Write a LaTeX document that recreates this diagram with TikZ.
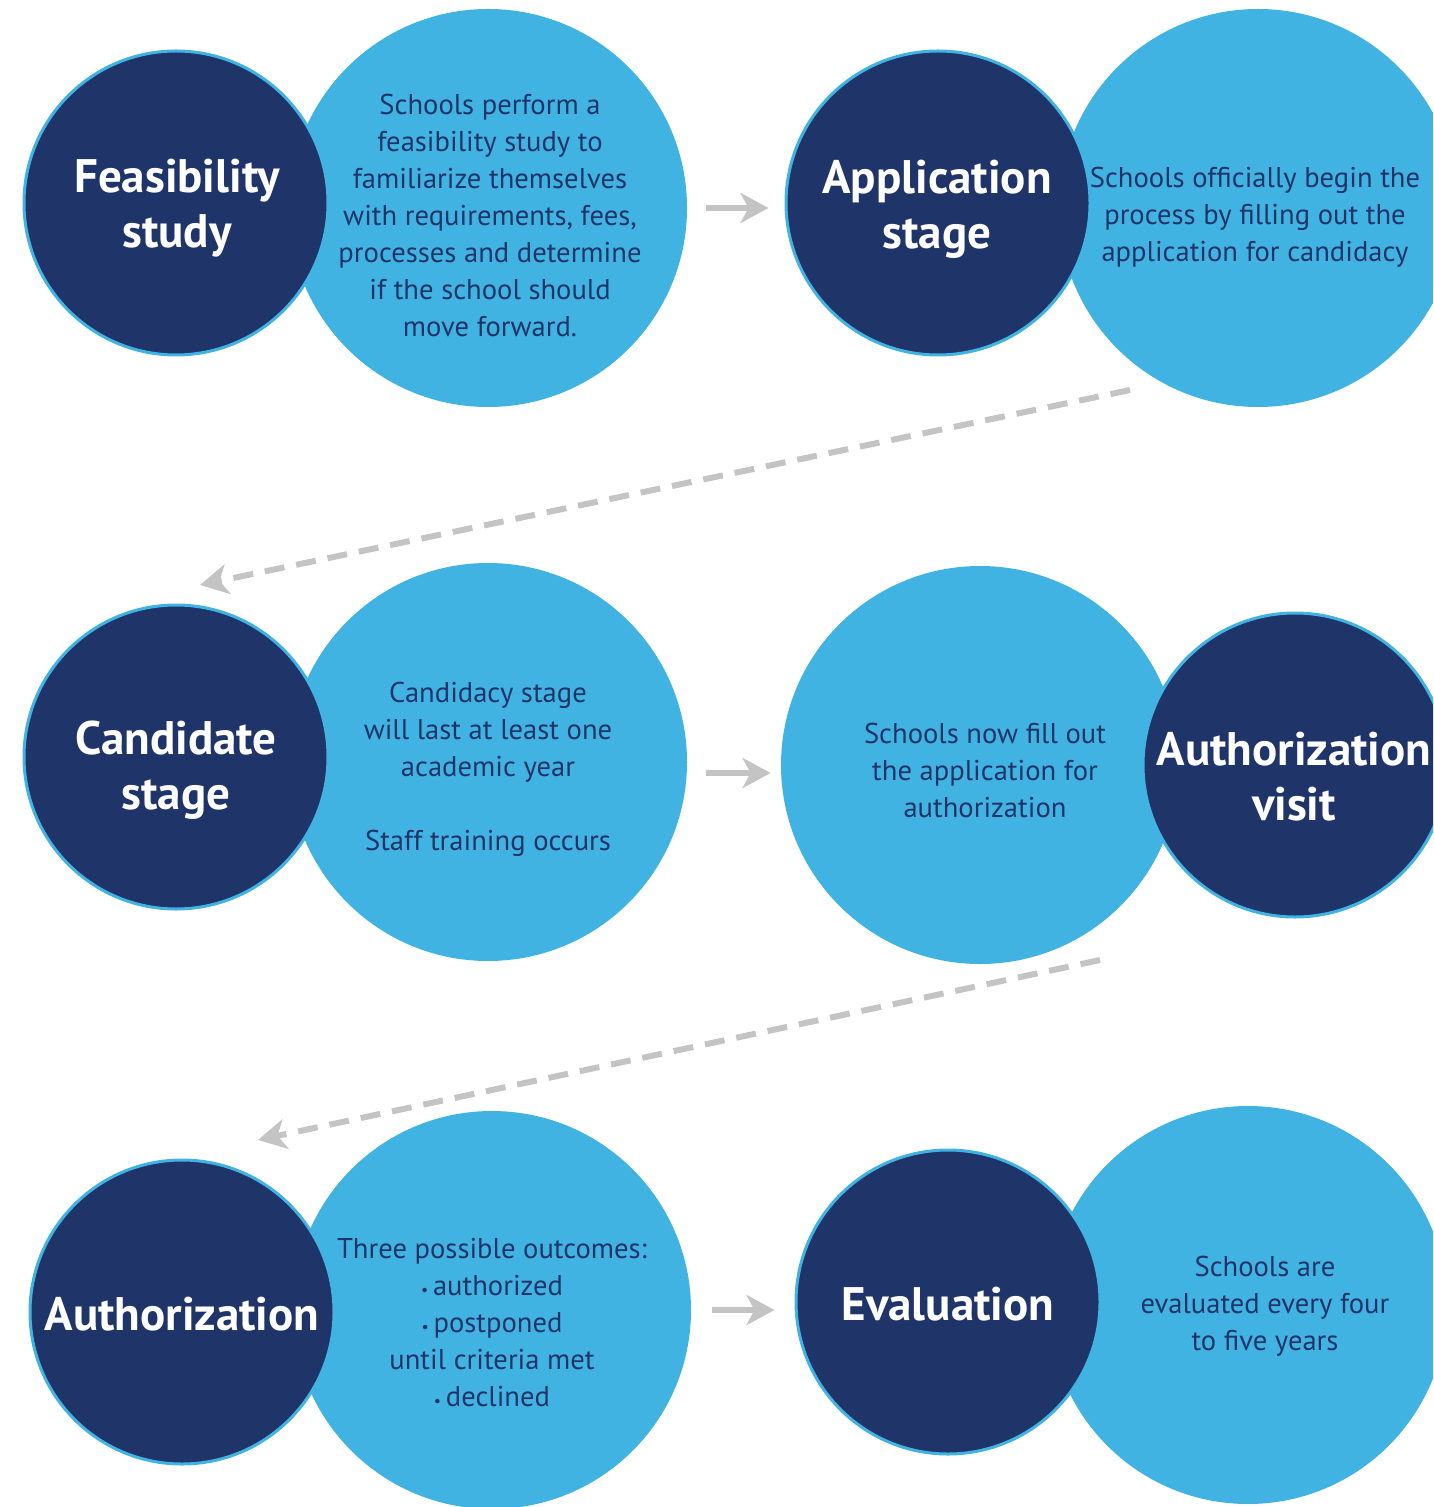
\documentclass[tikz,border=0pt]{standalone}
\usepackage{fontspec}
\setmainfont{PT Sans}
\usetikzlibrary{arrows.meta}
\definecolor{navy}{HTML}{1F356A}
\definecolor{sky}{HTML}{41B3E3}
\definecolor{arrowgray}{HTML}{C4C4C4}

\begin{document}
\begin{tikzpicture}
  [x=0.5pt,y=-0.5pt,
  darkdisc/.style={circle,fill=navy,draw=sky,line width=1.5pt,minimum size=152pt,inner sep=0pt},
  lightdisc/.style={circle,fill=sky,draw=none,minimum size=199pt,inner sep=0pt},
  disclabel/.style={text=white,align=center,inner sep=0pt,font=\bfseries\fontsize{23.5}{27.5}\selectfont},
  bodytext/.style={text=navy,align=center,inner sep=0pt,font=\fontsize{14.3}{18.5}\selectfont},
  flowarrow/.style={-{Stealth[length=14pt,width=15pt,inset=4pt]},arrowgray,line width=3pt},
  jumparrow/.style={flowarrow,dash pattern=on 10pt off 6pt}]
  \useasboundingbox (0,0) rectangle (1433,1507);
  \clip (0,0) rectangle (1433,1507);

  % light discs
  \node[lightdisc] (l1) at (488,208) {};
  \node[lightdisc] (l2) at (1258,208) {};
  \node[lightdisc] (l3) at (488,762) {};
  \node[lightdisc] (l4) at (980,765) {};
  \node[lightdisc] (l5) at (492,1310) {};
  \node[lightdisc] (l6) at (1248,1305) {};

  % dark discs
  \node[darkdisc] (d1) at (176,203) {};
  \node[darkdisc] (d2) at (938,203) {};
  \node[darkdisc] (d3) at (176,757) {};
  \node[darkdisc] (d4) at (1295,765) {};
  \node[darkdisc] (d5) at (182,1312) {};
  \node[darkdisc] (d6) at (948,1302) {};

  % stage names
  \node[disclabel] (n1) at (177,208) {Feasibility\\study};
  \node[disclabel] (n2) at (937,209) {Application\\stage};
  \node[disclabel] (n3) at (176,770) {Candidate\\stage};
  \node[disclabel] (n4) at (1294,777) {Authorization\\visit};
  \node[disclabel] (n5) at (182,1314) {Authorization};
  \node[disclabel] (n6) at (948,1304) {Evaluation};

  % texts
  \node[bodytext] (t1) at (490,215) {Schools perform a\\feasibility study to\\familiarize themselves\\with requirements, fees,\\processes and determine\\if the school should\\move forward.};
  \node[bodytext] (t2) at (1255,217) {Schools officially begin the\\process by filling out the\\application for candidacy};
  \node[bodytext] (t3) at (488,769) {Candidacy stage\\will last at least one\\academic year\\[18.5pt]Staff training occurs};
  \node[bodytext] (t4) at (985,770) {Schools now fill out\\the application for\\authorization};
  \node[bodytext] (t5) at (492,1323) {Three possible outcomes:\\{\footnotesize\textbullet}\,authorized\\{\footnotesize\textbullet}\,postponed\\until criteria met\\{\footnotesize\textbullet}\,declined};
  \node[bodytext] (t6) at (1265,1306) {Schools are\\evaluated every four\\to five years};

  % arrows
  \coordinate (j1s) at (1130,390);
  \coordinate (j1e) at (200,585);
  \coordinate (j2s) at (1100,960);
  \coordinate (j2e) at (258,1140);
  \draw[flowarrow,shorten <=9.5pt,shorten >=8pt] (l1.east) -- (l1.east -| d2.west);
  \draw[flowarrow] ([shift={(19,11)}]l3.east) -- ([shift={(-10,8)}]l4.west);
  \draw[flowarrow,shorten <=10.5pt,shorten >=10pt] (l5.east) -- (l5.east -| d6.west);
  \draw[jumparrow] (j1s) -- (j1e);
  \draw[jumparrow] (j2s) -- (j2e);

\end{tikzpicture}
\end{document}
